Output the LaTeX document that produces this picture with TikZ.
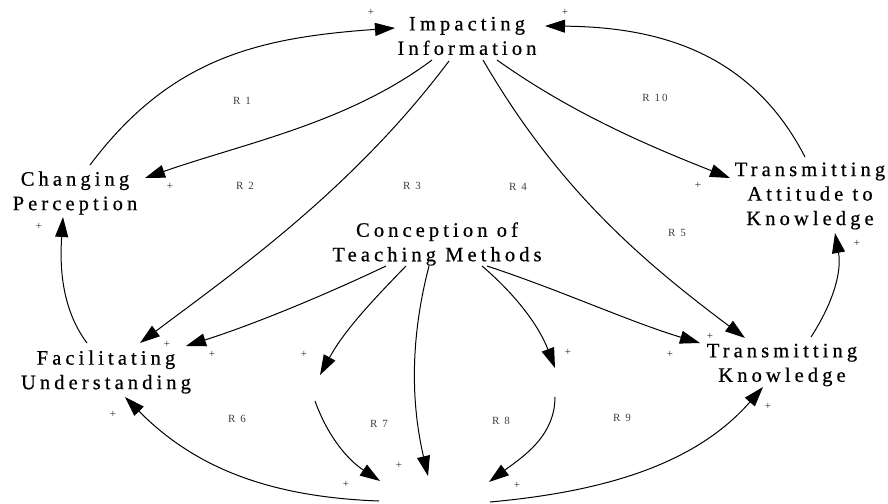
\documentclass[tikz,border=0pt]{standalone}
\usepackage{fontspec}
\setmainfont{Liberation Serif}
\newfontfamily\varfont{Liberation Serif}[LetterSpace=20,FakeBold=0.6]
\newfontfamily\loopfont{Liberation Serif}[LetterSpace=18]
\usetikzlibrary{arrows.meta,calc}
\tikzset{
  var/.style={font=\varfont\fontsize{20.5}{24.5}\selectfont, align=center, inner sep=0pt},
  link/.style={line width=1pt, -{Triangle[length=20pt,width=13pt]}},
  pol/.style={font=\fontsize{11}{11}\selectfont, inner sep=0pt, text=black!85},
  loopname/.style={font=\loopfont\fontsize{11}{11}\selectfont, inner sep=0pt, text=black!75}
}
\begin{document}
\begin{tikzpicture}[x=1pt,y=-1pt]
\useasboundingbox (0,0) rectangle (888,503);
% variables
\node[var] (imp) at (467,36) {Impacting\\Information};
\node[var] (chg) at (75,193) {Changing\\Perception};
\node[var] (tak) at (810,196) {Transmitting\\Attitude to\\Knowledge};
\node[var] (con) at (437,244) {Conception of\\Teaching Methods};
\node[var] (fac) at (106,372) {Facilitating\\Understanding};
\node[var] (tk) at (782,365) {Transmitting\\Knowledge};
\coordinate (linv) at (318,388);
\coordinate (rinv) at (555,383);
\coordinate (bot) at (435,510);
% links
\draw[link] ($(chg)+(15,-28)$) .. controls +(81,-108) and +(-135,9.5) .. ($(imp)+(-72,-8)$);
\draw[link] ($(tak)+(-5,-39)$) .. controls +(-53,-103) and +(116,1) .. ($(imp)+(78,-10)$);
\draw[link] ($(imp)+(-35,24)$) .. controls +(-84,63) and +(100,-35) .. ($(chg)+(70,-15)$);
\draw[link] ($(imp)+(-18,25)$) .. controls +(-96,128) and +(96,-72) .. ($(fac)+(34,-29)$);
\draw[link] ($(imp)+(16,24)$) .. controls +(75,129) and +(-104,-78) .. ($(tk)+(-37,-27)$);
\draw[link] ($(imp)+(30,24)$) .. controls +(73,52) and +(-84,-33) .. ($(tak)+(-80,-18)$);
\draw[link] ($(tk)+(29,-28)$) .. controls +(22,-34) and +(7,39) .. ($(tak)+(25,37)$);
\draw[link] ($(fac)+(-19,-29)$) .. controls +(-27,-36) and +(-3,45) .. ($(chg)+(-12,24)$);
\draw[link] ($(con)+(-51,22)$) .. controls +(-63,30) and +(66,-21) .. ($(fac)+(80,-26)$);
\draw[link] ($(con)+(-31,22)$) .. controls +(-35,36) and +(24,-44) .. ($(linv)+(2,-13)$);
\draw[link] ($(linv)+(-3,13)$) .. controls +(13,36) and +(-32,-21) .. ($(bot)+(-55,-29)$);
\draw[link] ($(con)+(-8,22)$) .. controls +(-19,73) and +(-17,-73) .. ($(bot)+(-7,-34)$);
\draw[link] ($(con)+(45,22)$) .. controls +(34,29) and +(-16,-42) .. ($(rinv)+(0,-15)$);
\draw[link] ($(rinv)+(0,14)$) .. controls +(0,40) and +(32,-24) .. ($(bot)+(54,-28)$);
\draw[link] ($(con)+(50,22)$) .. controls +(73,24) and +(-70,-21) .. ($(tk)+(-82,-22)$);
\draw[link] ($(bot)+(-56,-9)$) .. controls +(-109,-4) and +(70,71) .. ($(fac)+(19,25)$);
\draw[link] ($(bot)+(55,-8)$) .. controls +(110,-10) and +(-69,79) .. ($(tk)+(-19,22)$);
% polarities
\node[pol] (p1) at (371,12) {+};
\node[pol] (p2) at (565,12) {+};
\node[pol] (p3) at (170,186) {+};
\node[pol] (p4) at (167,344) {+};
\node[pol] (p5) at (710,336) {+};
\node[pol] (p6) at (698,185) {+};
\node[pol] (p7) at (857,243) {+};
\node[pol] (p8) at (39,226) {+};
\node[pol] (p9) at (212,354) {+};
\node[pol] (p10) at (304,354) {+};
\node[pol] (p11) at (346,484) {+};
\node[pol] (p12) at (399,465) {+};
\node[pol] (p13) at (568,352) {+};
\node[pol] (p14) at (517,485) {+};
\node[pol] (p15) at (670,354) {+};
\node[pol] (p16) at (113,414) {+};
\node[pol] (p17) at (768,406) {+};
% loop names
\node[loopname] (r1) at (242,101) {R 1};
\node[loopname] (r10) at (655,98) {R 10};
\node[loopname] (r2) at (245,186) {R 2};
\node[loopname] (r3) at (412,186) {R 3};
\node[loopname] (r4) at (518,187) {R 4};
\node[loopname] (r5) at (677,233) {R 5};
\node[loopname] (r6) at (237,419) {R 6};
\node[loopname] (r7) at (379,424) {R 7};
\node[loopname] (r8) at (501,421) {R 8};
\node[loopname] (r9) at (622,418) {R 9};
\end{tikzpicture}
\end{document}
